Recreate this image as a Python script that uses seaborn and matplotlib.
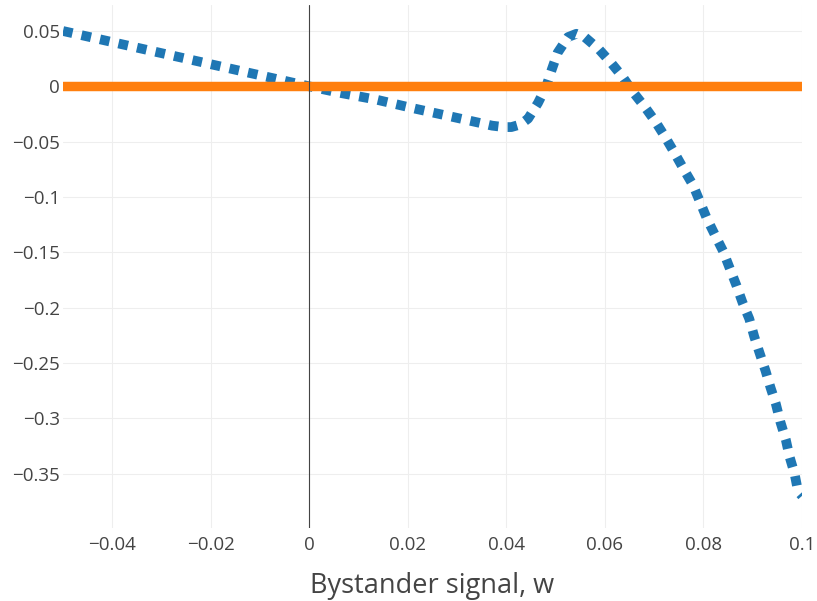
import numpy as np
import pandas as pd
import seaborn as sns
import matplotlib.pyplot as plt
from matplotlib.ticker import FixedLocator, FixedFormatter

# Bystander signal values and the effect curve (blue, dotted)
w_blue = [-0.05, -0.03, -0.01, 0.0, 0.006, 0.0136, 0.0214, 0.0292, 0.0371, 0.0395,
          0.041, 0.0428, 0.0444, 0.0464, 0.0481, 0.0492, 0.0504, 0.0525, 0.0542,
          0.0559, 0.0588, 0.0613, 0.0637, 0.0657, 0.0682, 0.0703, 0.0723, 0.0742,
          0.0760, 0.0779, 0.0793, 0.0807, 0.0823, 0.0840, 0.0853, 0.0867, 0.0879,
          0.0893, 0.0903, 0.0914, 0.0926, 0.0936, 0.0947, 0.0956, 0.0967, 0.0975,
          0.0985, 0.0992, 0.1]
effect_blue = [0.05, 0.03, 0.01, 0.0, -0.0057, -0.012, -0.0201, -0.0277, -0.0355, -0.0368,
               -0.0368, -0.0345, -0.0292, -0.0151, 0.0, 0.0151, 0.0304, 0.0445, 0.0475,
               0.0445, 0.0334, 0.021, 0.0079, -0.0051, -0.0192, -0.0322, -0.0463, -0.0607,
               -0.0749, -0.0894, -0.1044, -0.1195, -0.134, -0.149, -0.164, -0.180, -0.195,
               -0.210, -0.226, -0.241, -0.257, -0.272, -0.287, -0.303, -0.319, -0.335,
               -0.350, -0.366, -0.370]

# Baseline (orange, solid)
w_orange = [-0.05, 0.1]
effect_orange = [0.0, 0.0]

x_ticks = [-0.04, -0.02, 0.0, 0.02, 0.04, 0.06, 0.08, 0.1]
x_tick_labels = ["\u22120.04", "\u22120.02", "0", "0.02", "0.04", "0.06", "0.08", "0.1"]
y_ticks = [0.05, 0.0, -0.05, -0.1, -0.15, -0.2, -0.25, -0.3, -0.35]
y_tick_labels = ["0.05", "0", "\u22120.05", "\u22120.1", "\u22120.15", "\u22120.2",
                 "\u22120.25", "\u22120.3", "\u22120.35"]
x_title = "Bystander signal, w"

blue_df = pd.DataFrame({"w": w_blue, "effect": effect_blue})
orange_df = pd.DataFrame({"w": w_orange, "effect": effect_orange})

sns.set_theme(style="white")
plt.rcParams["font.family"] = ["Open Sans", "DejaVu Sans"]

fig = plt.figure(figsize=(8.17, 6.01), dpi=100)
ax = fig.add_axes([63 / 817, 73 / 601, 739 / 817, 523 / 601])

sns.lineplot(data=blue_df, x="w", y="effect", ax=ax, color="#1f77b4",
             linewidth=7.0, estimator=None, sort=False, zorder=3,
             dashes=False)
blue_line = ax.lines[-1]
blue_line.set_dashes((1.0, 0.95))
blue_line.set_dash_capstyle("butt")

sns.lineplot(data=orange_df, x="w", y="effect", ax=ax, color="#ff7f0e",
             linewidth=6.8, estimator=None, zorder=4)

ax.axvline(0, color="#444444", linewidth=0.8, zorder=5)

ax.set_xlim(-0.05, 0.1)
ax.set_ylim(-0.399, 0.0735)

ax.xaxis.set_major_locator(FixedLocator(x_ticks))
ax.xaxis.set_major_formatter(FixedFormatter(x_tick_labels))
ax.yaxis.set_major_locator(FixedLocator(y_ticks))
ax.yaxis.set_major_formatter(FixedFormatter(y_tick_labels))

ax.grid(True, color="#eeeeee", linewidth=0.8, zorder=0)
ax.set_axisbelow(True)
for s in ax.spines.values():
    s.set_visible(False)

ax.tick_params(axis="both", length=0, labelsize=13.5, labelcolor="#444444")
ax.tick_params(axis="x", pad=6)
ax.tick_params(axis="y", pad=2)

ax.set_xlabel(x_title, fontsize=19.5, color="#444444", labelpad=13)
ax.set_ylabel("")

fig.savefig("out.png", dpi=100)
